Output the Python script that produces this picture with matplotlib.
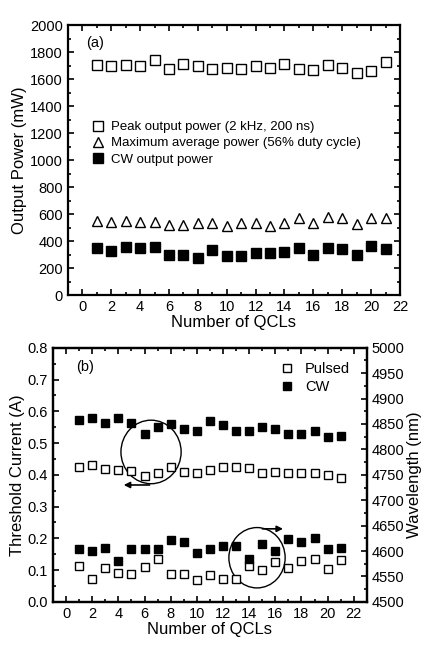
import numpy as np
import matplotlib.pyplot as plt
from matplotlib.patches import Ellipse
from matplotlib.ticker import MultipleLocator

plt.rcParams['font.family'] = ['Liberation Sans', 'DejaVu Sans']

qcl = np.arange(1, 22)

# (a) output power, mW
peak_power = [1704, 1697, 1704, 1697, 1741, 1673, 1716, 1697, 1678, 1687, 1673,
              1697, 1682, 1716, 1678, 1668, 1707, 1682, 1644, 1661, 1731]
avg_power = [553, 541, 553, 543, 543, 523, 519, 538, 531, 514, 531,
             538, 514, 538, 568, 531, 580, 573, 528, 575, 573]
cw_power = [346, 326, 356, 346, 356, 301, 301, 277, 336, 289, 289,
            309, 309, 323, 351, 299, 351, 343, 294, 363, 343]

# (b) threshold current, A
ith_pulsed = [0.425, 0.430, 0.417, 0.415, 0.413, 0.396, 0.405, 0.425, 0.408, 0.406, 0.414,
              0.425, 0.425, 0.421, 0.406, 0.408, 0.406, 0.406, 0.406, 0.401, 0.389]
ith_cw = [0.574, 0.578, 0.562, 0.580, 0.563, 0.528, 0.552, 0.561, 0.544, 0.539, 0.570,
          0.557, 0.539, 0.539, 0.551, 0.544, 0.529, 0.529, 0.539, 0.520, 0.523]
# (b) wavelength, nm
wl_pulsed = [4571, 4545, 4566, 4557, 4554, 4569, 4584, 4554, 4555, 4544, 4553,
             4546, 4546, 4571, 4563, 4579, 4567, 4581, 4584, 4565, 4582]
wl_cw = [4604, 4600, 4606, 4580, 4605, 4605, 4605, 4622, 4618, 4597, 4604,
         4609, 4609, 4585, 4614, 4600, 4623, 4617, 4625, 4605, 4607]


def estilo(ax):
    for s in ax.spines.values():
        s.set_linewidth(1.6)
    ax.tick_params(which='both', direction='in', width=1.2, labelsize=10.5)
    ax.tick_params(which='major', length=4)
    ax.tick_params(which='minor', length=2)


fig = plt.figure(figsize=(4.41, 6.5), dpi=100)

# ---- panel (a)
ax1 = fig.add_axes([0.154, 0.546, 0.753, 0.415])
ms = 6.5
ax1.plot(qcl, peak_power, 's', mfc='white', mec='black', mew=1.0, ms=ms,
         label='Peak output power (2 kHz, 200 ns)')
ax1.plot(qcl, avg_power, '^', mfc='white', mec='black', mew=1.0, ms=ms + 1,
         label='Maximum average power (56% duty cycle)')
ax1.plot(qcl, cw_power, 's', mfc='black', mec='black', ms=ms,
         label='CW output power')
ax1.set_xlim(-1, 22)
ax1.set_ylim(0, 2000)
ax1.xaxis.set_major_locator(MultipleLocator(2))
ax1.xaxis.set_minor_locator(MultipleLocator(1))
ax1.yaxis.set_major_locator(MultipleLocator(200))
ax1.yaxis.set_minor_locator(MultipleLocator(100))
ax1.tick_params(which='both', top=True, right=True)
estilo(ax1)
ax1.set_xlabel('Number of QCLs', fontsize=12, labelpad=1)
ax1.set_ylabel('Output Power (mW)', fontsize=12, labelpad=2)
ax1.text(0.055, 0.92, '(a)', transform=ax1.transAxes, fontsize=10.5)
ax1.legend(loc='upper left', bbox_to_anchor=(0.05, 0.665), frameon=False,
           fontsize=9.5, handletextpad=0.4, borderaxespad=0, labelspacing=0.3,
           handlelength=1.2)

# ---- panel (b)
ax2 = fig.add_axes([0.120, 0.074, 0.712, 0.391])
ax3 = ax2.twinx()
ax2.plot(qcl, ith_pulsed, 's', mfc='white', mec='black', mew=1.0, ms=6, label='Pulsed')
ax2.plot(qcl, ith_cw, 's', mfc='black', mec='black', ms=6, label='CW')
ax3.plot(qcl, wl_pulsed, 's', mfc='white', mec='black', mew=1.0, ms=6)
ax3.plot(qcl, wl_cw, 's', mfc='black', mec='black', ms=6)
ax2.set_xlim(-1, 23)
ax2.set_ylim(0.0, 0.8)
ax3.set_ylim(4500, 5000)
ax2.xaxis.set_major_locator(MultipleLocator(2))
ax2.xaxis.set_minor_locator(MultipleLocator(1))
ax2.yaxis.set_major_locator(MultipleLocator(0.1))
ax2.yaxis.set_minor_locator(MultipleLocator(0.05))
ax3.yaxis.set_major_locator(MultipleLocator(50))
ax3.yaxis.set_minor_locator(MultipleLocator(25))
ax2.tick_params(which='both', top=True)
estilo(ax2)
estilo(ax3)
ax2.yaxis.set_major_formatter(plt.FormatStrFormatter('%.1f'))
ax2.set_xlabel('Number of QCLs', fontsize=12, labelpad=1)
ax2.set_ylabel('Threshold Current (A)', fontsize=12, labelpad=2)
ax3.set_ylabel('Wavelength (nm)', fontsize=12, labelpad=2)
ax2.text(0.075, 0.91, '(b)', transform=ax2.transAxes, fontsize=10.5)
ax2.legend(loc='upper left', bbox_to_anchor=(0.70, 0.965), frameon=False,
           fontsize=10.5, handletextpad=0.6, borderaxespad=0, labelspacing=0.25,
           handlelength=1.2)

# circles + arrows
ax2.add_patch(Ellipse((6.5, 0.472), 4.6, 0.20, fill=False, ec='black', lw=1.0))
ax2.annotate('', xy=(4.2, 0.368), xytext=(6.6, 0.368),
             arrowprops=dict(arrowstyle='-|>', color='black', lw=1.2, mutation_scale=9))
ax2.add_patch(Ellipse((14.6, 0.139), 4.3, 0.19, fill=False, ec='black', lw=1.0))
ax2.annotate('', xy=(16.8, 0.23), xytext=(14.8, 0.23),
             arrowprops=dict(arrowstyle='-|>', color='black', lw=1.2, mutation_scale=9))

fig.savefig('out.png', dpi=100)
